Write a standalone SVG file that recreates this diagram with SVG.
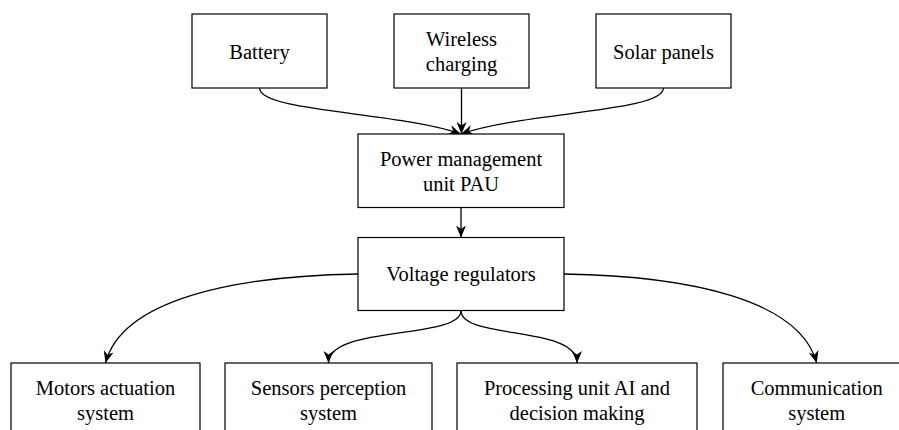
<svg xmlns="http://www.w3.org/2000/svg" width="899" height="430" viewBox="0 0 899 430">
<defs>
<marker id="arr" viewBox="0 0 12 10" refX="12" refY="5" markerWidth="12" markerHeight="10" markerUnits="userSpaceOnUse" orient="auto">
<path d="M0,0 L12,5 L0,10 L3.5,5 Z" fill="#000"/>
</marker>
<style>
.box{fill:#fff;stroke:#000;stroke-width:1.2}
.t{font-size:20.5px;fill:#000;text-anchor:middle}
.e{fill:none;stroke:#000;stroke-width:1.3;marker-end:url(#arr)}
</style>
</defs>
<g id="connectors">
<path class="e" d="M259.5,88 C259.5,112 400,112 461,134"/>
<path class="e" d="M461.5,88 L461.5,134"/>
<path class="e" d="M663.5,88 C663.5,112 523,112 461,134"/>
<path class="e" d="M461,207.5 L461,237.5"/>
<path class="e" d="M358,274 C232,276 122,300 105.5,363"/>
<path class="e" d="M461,310.5 C461,340 328.5,325 328.5,363"/>
<path class="e" d="M461,310.5 C461,340 577,325 577,363"/>
<path class="e" d="M564,274 C690,276 800,300 816.7,363"/>
</g>
<g font-family="Liberation Serif, 'Times New Roman', Times, 'DejaVu Serif', serif">
<g id="battery"><rect class="box" x="192" y="14" width="135" height="74"/><text class="t" x="259.5" y="58.5">Battery</text></g>
<g id="wireless"><rect class="box" x="394" y="14" width="135" height="74"/><text class="t" x="461.5" y="46">Wireless</text><text class="t" x="461.5" y="71">charging</text></g>
<g id="solar"><rect class="box" x="596" y="14" width="135" height="74"/><text class="t" x="663.5" y="58.5">Solar panels</text></g>
<g id="pmu"><rect class="box" x="358" y="134" width="206" height="73.5"/><text class="t" x="461" y="166">Power management</text><text class="t" x="461" y="191">unit PAU</text></g>
<g id="vr"><rect class="box" x="358" y="237.5" width="206" height="73"/><text class="t" x="461" y="281">Voltage regulators</text></g>
<g id="motors"><rect class="box" x="11" y="363" width="189" height="73.5"/><text class="t" x="105.5" y="395">Motors actuation</text><text class="t" x="105.5" y="420">system</text></g>
<g id="sensors"><rect class="box" x="225" y="363" width="207" height="73.5"/><text class="t" x="328.5" y="395">Sensors perception</text><text class="t" x="328.5" y="420">system</text></g>
<g id="processing"><rect class="box" x="457" y="363" width="240" height="73.5"/><text class="t" x="577" y="395">Processing unit AI and</text><text class="t" x="577" y="420">decision making</text></g>
<g id="communication"><rect class="box" x="723" y="363" width="187" height="73.5"/><text class="t" x="816.7" y="395">Communication</text><text class="t" x="816.7" y="420">system</text></g>
</g>
</svg>
